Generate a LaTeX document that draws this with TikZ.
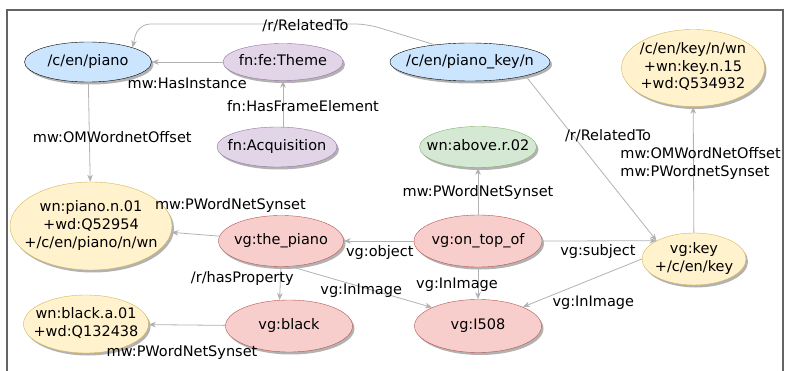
\documentclass[tikz,border=0pt]{standalone}
\usepackage{fontspec}
\setmainfont{DejaVu Sans}
\usepackage{tikz}
\usepackage{xcolor}
\usetikzlibrary{shapes.geometric}
\usetikzlibrary{positioning}
\usetikzlibrary{shadows}
\usetikzlibrary{arrows.meta}
\definecolor{conceptblue}{RGB}{204,229,255}
\definecolor{framefill}{RGB}{225,213,231}
\definecolor{framedraw}{RGB}{150,115,166}
\definecolor{synsetfill}{RGB}{255,242,204}
\definecolor{synsetdraw}{RGB}{214,182,86}
\definecolor{sensefill}{RGB}{213,232,212}
\definecolor{sensedraw}{RGB}{130,179,102}
\definecolor{scenefill}{RGB}{248,206,204}
\definecolor{scenedraw}{RGB}{184,84,80}
\definecolor{linkgray}{RGB}{178,178,178}
\definecolor{boxgray}{RGB}{100,100,100}
\newcommand{\ntext}[1]{\makebox[0pt]{\begin{tabular}{@{}c@{}}#1\end{tabular}}}
\tikzstyle{nodeshadow} = [drop shadow={shadow xshift=2pt, shadow yshift=-2.5pt, opacity=0.3, fill=black}]
\tikzstyle{conceptnode} = [ellipse, inner sep=0pt, draw=black, fill=conceptblue, nodeshadow]
\tikzstyle{framenode} = [ellipse, inner sep=0pt, draw=framedraw, fill=framefill, nodeshadow]
\tikzstyle{synsetnode} = [ellipse, inner sep=0pt, draw=synsetdraw, fill=synsetfill, nodeshadow]
\tikzstyle{sensenode} = [ellipse, inner sep=0pt, draw=sensedraw, fill=sensefill, nodeshadow]
\tikzstyle{scenenode} = [ellipse, inner sep=0pt, draw=scenedraw, fill=scenefill, nodeshadow]
\tikzstyle{link} = [draw=linkgray, line width=0.8pt, ->, >={Stealth[length=7pt, width=5.5pt, inset=2pt]}]
\tikzstyle{elabel} = [inner sep=1pt, text=black]
\begin{document}
\begin{tikzpicture}[x=1pt, y=1pt, node distance=85pt, font=\fontsize{14.5}{17.5}\selectfont]
        \useasboundingbox (0,0) rectangle (787,370);
        \draw [boxgray, line width=1.2pt] (7,-5) |- (783,360) -- (783,-5);

        \node (piano) [conceptnode, minimum width=127pt, minimum height=40pt] at (88,308) {\ntext{/c/en/piano}};
        \node (theme) [framenode, right of=piano, xshift=110pt, minimum width=120pt, minimum height=37pt] {\ntext{fn:fe:Theme}};
        \node (acq) [framenode, below of=theme, xshift=-6pt, minimum width=120pt, minimum height=40pt] {\ntext{fn:Acquisition}};
        \node (pianokey) [conceptnode, right of=theme, xshift=102pt, minimum width=160pt, minimum height=38pt] {\ntext{/c/en/piano\_key/n}};
        \node (keywn) [synsetnode, right of=pianokey, xshift=138pt, yshift=-6pt, minimum width=143pt, minimum height=77pt] {\ntext{/c/en/key/n/wn\\+wn:key.n.15\\+wd:Q534932}};
        \node (above) [sensenode, below of=pianokey, xshift=8pt, minimum width=117pt, minimum height=41pt] {\ntext{wn:above.r.02}};
        \node (ontop) [scenenode, below of=above, yshift=-9pt, minimum width=128pt, minimum height=52pt] {\ntext{vg:on\_top\_of}};
        \node (thepiano) [scenenode, left of=ontop, xshift=-112pt, minimum width=125pt, minimum height=51pt] {\ntext{vg:the\_piano}};
        \node (i508) [scenenode, below of=ontop, minimum width=127pt, minimum height=53pt] {\ntext{vg:I508}};
        \node (black) [scenenode, below of=thepiano, xshift=8pt, minimum width=127pt, minimum height=52pt] {\ntext{vg:black}};
        \node (key) [synsetnode, right of=ontop, xshift=131pt, yshift=-18pt, minimum width=104pt, minimum height=52pt] {\ntext{vg:key\\+/c/en/key}};
        \node (pianown) [synsetnode, left of=thepiano, xshift=-105pt, yshift=15pt, minimum width=162pt, minimum height=88pt] {\ntext{wn:piano.n.01\\+wd:Q52954\\+/c/en/piano/n/wn}};
        \node (blackwn) [synsetnode, left of=black, xshift=-118pt, yshift=2pt, minimum width=125pt, minimum height=58pt] {\ntext{wn:black.a.01\\+wd:Q132438}};

        \coordinate (rtright) at (367,346);
        \coordinate (rtleft) at (138,346);

        \draw [link, rounded corners=12pt] (pianokey.154) -- (rtright) -- node[elabel, xshift=53pt, yshift=-1.5pt] {/r/RelatedTo} (rtleft) -- (piano.18);
        \draw [link] (theme) -- node[elabel, yshift=-21pt] {mw:HasInstance} (piano);
        \draw [link] (acq.north -| theme) -- node[elabel, xshift=20pt, yshift=-2pt] {fn:HasFrameElement} (theme);
        \draw [link] (piano) -- node[elabel, xshift=23pt, yshift=-5pt] {mw:OMWordnetOffset} (pianown);
        \draw [link] (thepiano) -- node[elabel, xshift=35pt, yshift=29pt] {mw:PWordNetSynset} (pianown);
        \draw [link] (ontop) -- node[elabel, xshift=1pt, yshift=-11pt] {vg:object} (thepiano);
        \draw [link] (ontop) -- node[elabel, yshift=-1pt] {mw:PWordNetSynset} (above);
        \draw [link] (ontop.east) -- node[elabel, xshift=-1.5pt, yshift=-11pt] {vg:subject} (key.154);
        \draw [link] (pianokey.-14) -- node[elabel, xshift=17pt, yshift=23pt] {/r/RelatedTo} (key.154);
        \draw [link] (key) -- node[elabel, anchor=west, align=left, xshift=-74.5pt, yshift=6pt] {mw:OMWordNetOffset\\mw:PWordnetSynset} (keywn);
        \draw [link] (ontop) -- node[elabel, xshift=-21pt, yshift=-1pt] {vg:InImage} (i508);
        \draw [link] (key.west) -- node[elabel, xshift=11pt, yshift=-20pt] {vg:InImage} (i508.23);
        \draw [link] (thepiano.-70) -- node[elabel, yshift=-4pt] {vg:InImage} (i508.158);
        \draw [link] (thepiano.south) -- node[elabel, xshift=-38pt, yshift=5pt] {/r/hasProperty} (black.110);
        \draw [link] (black) -- node[elabel, xshift=-5pt, yshift=-28pt] {mw:PWordNetSynset} (blackwn);
    \end{tikzpicture}
\end{document}
